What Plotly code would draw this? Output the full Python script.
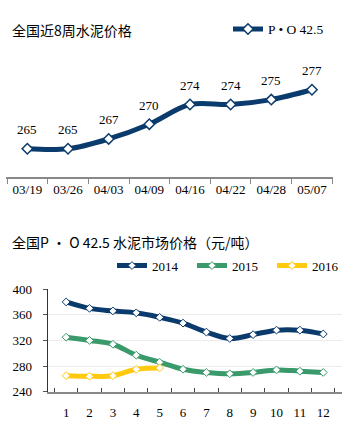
import plotly.graph_objects as go

W, H = 353, 427

weeks = ["03/19", "03/26", "04/03", "04/09", "04/16", "04/22", "04/28", "05/07"]
week_prices = [265, 265, 267, 270, 274, 274, 275, 277]
weekly_name = "P • O 42.5"

months = ["1", "2", "3", "4", "5", "6", "7", "8", "9", "10", "11", "12"]
p2014 = [380, 370, 366, 363, 356, 347, 333, 323, 329, 336, 336, 330]
p2015 = [325, 320, 314, 297, 286, 275, 270, 268, 270, 274, 272, 270]
p2016 = [265, 264, 265, 275, 277]
y_ticks = [240, 280, 320, 360, 400]

title1 = "全国近8周水泥价格"
title2 = "全国P ・ O 42.5 水泥市场价格（元/吨）"

NAVY = "#0b3b6c"
GREEN = "#3a9a6b"
YELLOW = "#ffc90e"
SERIF = "Liberation Serif"
CJK = "Noto Sans CJK SC"


def px_x(p):
    return p / W


def px_y(p):
    return (H - p) / H


fig = go.Figure()

fig.add_trace(go.Scatter(
    x=weeks, y=week_prices, name=weekly_name, mode="lines+markers",
    line=dict(color=NAVY, width=5, shape="spline", smoothing=1.0),
    marker=dict(symbol="diamond", size=8, color="white", line=dict(color=NAVY, width=1.5)),
    xaxis="x", yaxis="y", legend="legend", cliponaxis=False,
))

for name, vals, col in [("2014", p2014, NAVY), ("2015", p2015, GREEN), ("2016", p2016, YELLOW)]:
    fig.add_trace(go.Scatter(
        x=months[:len(vals)], y=vals, name=name, mode="lines+markers",
        line=dict(color=col, width=5, shape="spline", smoothing=1.0),
        marker=dict(symbol="diamond", size=6, color="white", line=dict(color=col, width=1)),
        xaxis="x2", yaxis="y2", legend="legend2", cliponaxis=False,
    ))

annotations = []
for w, v in zip(weeks, week_prices):
    annotations.append(dict(
        x=w, y=v, xref="x", yref="y", text=str(v), showarrow=False,
        yshift=19, yanchor="middle", font=dict(family=SERIF, size=13, color="#000"),
    ))
annotations.append(dict(x=px_x(10), y=px_y(24), xref="paper", yref="paper", text=title1,
                        showarrow=False, xanchor="left", yanchor="middle",
                        font=dict(family=CJK, size=14, color="#000")))
annotations.append(dict(x=px_x(10), y=px_y(244), xref="paper", yref="paper", text=title2,
                        showarrow=False, xanchor="left", yanchor="middle",
                        font=dict(family=CJK, size=14, color="#000")))

fig.update_layout(
    width=W, height=H, margin=dict(l=0, r=0, t=0, b=0),
    paper_bgcolor="white", plot_bgcolor="white",
    annotations=annotations,
    xaxis=dict(domain=[px_x(6), px_x(333.3)], type="category", tickson="boundaries",
               ticks="outside", ticklen=5, tickcolor="#888", tickwidth=1,
               showline=True, linecolor="#888", linewidth=2, showgrid=False,
               tickfont=dict(family=SERIF, size=13, color="#000"), anchor="y"),
    yaxis=dict(domain=[px_y(176), px_y(45)], range=[259.3, 285], visible=False,
               showgrid=False, zeroline=False, anchor="x"),
    xaxis2=dict(domain=[px_x(47.7), px_x(341.7)], type="category", tickson="boundaries",
                ticks="inside", ticklen=4, tickcolor="#444", tickwidth=1,
                showline=True, linecolor="#888", linewidth=2, showgrid=False,
                tickfont=dict(family=SERIF, size=13, color="#000"), anchor="y2",
                ticklabelstandoff=8),
    yaxis2=dict(domain=[px_y(398.7), px_y(292.4)], range=[240, 400], tickvals=y_ticks,
                ticks="outside", ticklen=4, tickcolor="#555",
                showline=True, linecolor="#333", linewidth=1, showgrid=True,
                gridcolor="#ececec", gridwidth=1, zeroline=False,
                tickfont=dict(family=SERIF, size=13, color="#000"), anchor="x2",
                ticklabelstandoff=8),
    legend=dict(x=px_x(228), y=px_y(23), xanchor="left", yanchor="middle",
                orientation="h", bgcolor="rgba(0,0,0,0)",
                font=dict(family=SERIF, size=13.5, color="#000")),
    legend2=dict(x=px_x(112), y=px_y(268), xanchor="left", yanchor="middle",
                 orientation="h", bgcolor="rgba(0,0,0,0)", entrywidth=35, entrywidthmode="pixels",
                 font=dict(family=SERIF, size=13, color="#000")),
    showlegend=True,
)

fig.write_html("out.html")
